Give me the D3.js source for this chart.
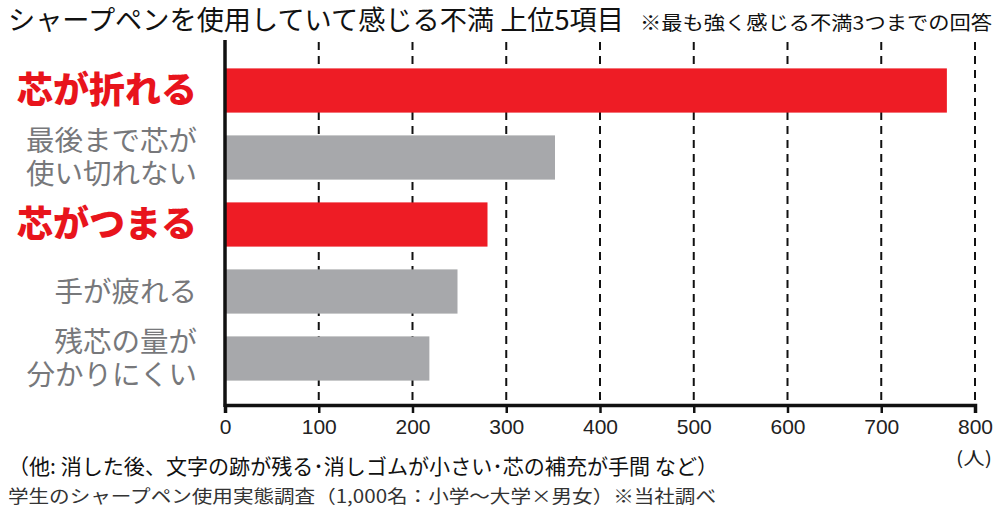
<!DOCTYPE html>
<html>
<head>
<meta charset="utf-8">
<script src="https://cdn.jsdelivr.net/npm/d3@7"></script>
<style>
  body { margin: 0; background: #fff; }
  text { font-family: "Noto Sans CJK JP", "Noto Sans", sans-serif; }
</style>
</head>
<body>
<div id="vis"></div>
<script>
// data
var categories = [
  ["芯が折れる"],
  ["最後まで芯が", "使い切れない"],
  ["芯がつまる"],
  ["手が疲れる"],
  ["残芯の量が", "分かりにくい"]
];
var values = [770, 352, 280, 248, 218];
var highlight = [true, false, true, false, false];
var ticks = [0, 100, 200, 300, 400, 500, 600, 700, 800];

var width = 1000, height = 517;
var margin = {top: 42, left: 225, right: 25, bottom: 112};

var svg = d3.select("#vis").append("svg")
    .attr("width", width)
    .attr("height", height);

var x = d3.scaleLinear()
    .domain([0, 800])
    .range([margin.left, width - margin.right]);

var y = d3.scaleBand()
    .domain(d3.range(categories.length))
    .range([57, 392])
    .paddingInner(0.34)
    .paddingOuter(0.17);

////////// grid //////////
svg.append("g").selectAll("line")
    .data(ticks.slice(1))
    .enter().append("line")
    .attr("x1", function(d) { return x(d); })
    .attr("x2", function(d) { return x(d); })
    .attr("y1", margin.top)
    .attr("y2", 405)
    .attr("stroke", "#111")
    .attr("stroke-width", 2)
    .attr("stroke-dasharray", "8,6");

////////// bars //////////
svg.append("g").selectAll("rect")
    .data(values)
    .enter().append("rect")
    .attr("x", x(0))
    .attr("y", function(d, i) { return y(i); })
    .attr("width", function(d) { return x(d) - x(0); })
    .attr("height", y.bandwidth())
    .attr("fill", function(d, i) { return highlight[i] ? "#ee1c25" : "#a7a8ab"; });

////////// axes //////////
var xAxis = svg.append("g")
    .attr("transform", "translate(0,405)")
    .call(d3.axisBottom(x).tickValues(ticks).tickSize(8).tickPadding(10));
xAxis.select(".domain").attr("stroke", "#111").attr("stroke-width", 3.5);
xAxis.selectAll(".tick line").attr("stroke", "#111").attr("stroke-width", 2.5);
xAxis.selectAll(".tick text")
    .attr("fill", "#222")
    .style("font-family", "'Liberation Sans Narrow', 'Liberation Sans', sans-serif")
    .style("font-size", "21px")
    .attr("dy", "0.5em");

svg.append("line")
    .attr("x1", x(0)).attr("x2", x(0))
    .attr("y1", margin.top - 2).attr("y2", 407)
    .attr("stroke", "#111")
    .attr("stroke-width", 3.5);

////////// labels //////////
var labels = svg.append("g").selectAll("text")
    .data(categories)
    .enter().append("text")
    .attr("text-anchor", "end")
    .attr("fill", function(d, i) { return highlight[i] ? "#e8141c" : "#77787b"; })
    .style("font-weight", function(d, i) { return highlight[i] ? 900 : 400; })
    .style("font-size", function(d, i) { return highlight[i] ? "36px" : "28.5px"; });

labels.each(function(d, i) {
  var t = d3.select(this);
  var cy = y(i) + y.bandwidth() / 2;
  var lh = 33;
  d.forEach(function(line, j) {
    t.append("tspan")
      .attr("x", 197)
      .attr("y", cy + (j - (d.length - 1) / 2) * lh)
      .attr("dy", "0.36em")
      .text(line);
  });
});

////////// titles //////////
svg.append("text")
    .attr("x", 8).attr("y", 30)
    .attr("fill", "#111")
    .style("font-size", "27px")
    .attr("textLength", 616)
    .attr("lengthAdjust", "spacingAndGlyphs")
    .text("シャープペンを使用していて感じる不満 上位5項目");

svg.append("text")
    .attr("x", 640).attr("y", 30)
    .attr("fill", "#111")
    .style("font-size", "19px")
    .attr("textLength", 352)
    .attr("lengthAdjust", "spacingAndGlyphs")
    .text("※最も強く感じる不満3つまでの回答");

svg.append("text")
    .attr("x", 956).attr("y", 465)
    .attr("fill", "#222")
    .style("font-size", "18px")
    .attr("textLength", 36)
    .attr("lengthAdjust", "spacingAndGlyphs")
    .text("(人)");

svg.append("text")
    .attr("x", 8).attr("y", 474)
    .attr("fill", "#111")
    .style("font-size", "21px")
    .attr("textLength", 710)
    .attr("lengthAdjust", "spacingAndGlyphs")
    .text("（他: 消した後、文字の跡が残る･消しゴムが小さい･芯の補充が手間 など）");

svg.append("text")
    .attr("x", 8).attr("y", 503)
    .attr("fill", "#333")
    .style("font-size", "18px")
    .attr("textLength", 708)
    .attr("lengthAdjust", "spacingAndGlyphs")
    .text("学生のシャープペン使用実態調査（1,000名：小学～大学×男女）※当社調べ");
</script>
</body>
</html>
